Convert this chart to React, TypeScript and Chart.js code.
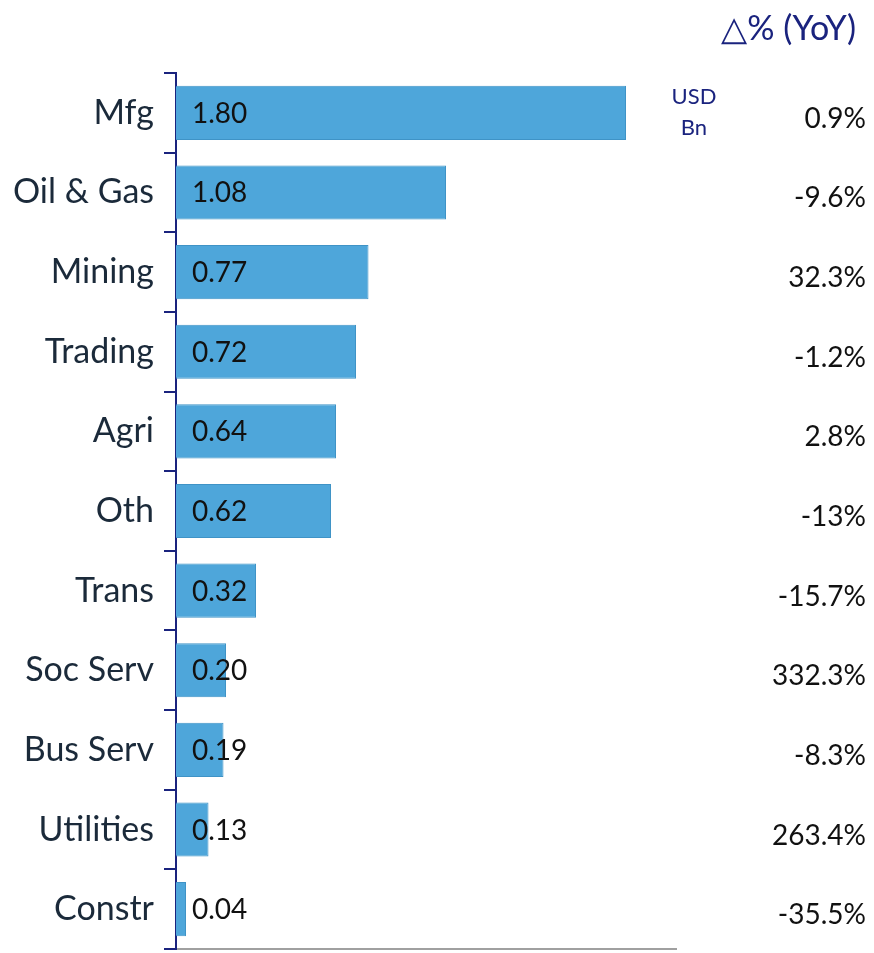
import React, { useEffect, useRef } from "react";
import { Chart, registerables } from "chart.js";

Chart.register(...registerables);

const categories = ["Mfg", "Oil & Gas", "Mining", "Trading", "Agri", "Oth", "Trans", "Soc Serv", "Bus Serv", "Utilities", "Constr"];
const values = [1.8, 1.08, 0.77, 0.72, 0.64, 0.62, 0.32, 0.2, 0.19, 0.13, 0.04];
const yoyLabels = ["0.9%", "-9.6%", "32.3%", "-1.2%", "2.8%", "-13%", "-15.7%", "332.3%", "-8.3%", "263.4%", "-35.5%"];
const headerText = "△% (YoY)";
const unitLines = ["USD", "Bn"];

const FONT = "Lato, 'Open Sans', sans-serif";
const NAVY = "#1a237e";

const textPlugin = {
  id: "textPlugin",
  afterDatasetsDraw(chart: any) {
    const ctx = chart.ctx;
    const meta = chart.getDatasetMeta(0);
    const area = chart.chartArea;
    ctx.save();
    ctx.textBaseline = "middle";
    meta.data.forEach((bar: any, i: number) => {
      ctx.font = `28px ${FONT}`;
      ctx.fillStyle = "#111111";
      ctx.textAlign = "left";
      ctx.fillText(values[i].toFixed(2), area.left + 16, bar.y + 1);
      ctx.textAlign = "right";
      ctx.fillText(yoyLabels[i], 866, bar.y + 6);
    });
    ctx.fillStyle = NAVY;
    ctx.font = `34px ${FONT}`;
    ctx.textAlign = "right";
    ctx.fillText(headerText, 856, 29);
    ctx.font = `22px ${FONT}`;
    ctx.textAlign = "center";
    const y0 = meta.data[0].y;
    ctx.fillText(unitLines[0], 694, y0 - 16);
    ctx.fillText(unitLines[1], 694, y0 + 15);
    ctx.restore();
  },
};

export default function App() {
  const ref = useRef<HTMLCanvasElement>(null);
  useEffect(() => {
    const chart = new Chart(ref.current!, {
      type: "bar",
      data: {
        labels: categories,
        datasets: [
          {
            data: values,
            backgroundColor: "#4ea6da",
            borderColor: "#3f93c6",
            borderWidth: 1,
            barPercentage: 0.68,
            categoryPercentage: 1,
          },
        ],
      },
      options: {
        indexAxis: "y",
        animation: false,
        responsive: false,
        maintainAspectRatio: false,
        layout: { padding: { top: 73, right: 198, bottom: 4, left: 0 } },
        plugins: { legend: { display: false }, tooltip: { enabled: false } },
        scales: {
          x: {
            min: 0,
            max: 2,
            ticks: { display: false },
            grid: { display: false },
            border: { display: true, color: "#a0a0a0", width: 2 },
            afterFit: (s: any) => {
              s.height = 0;
              s.paddingLeft = 0;
              s.paddingRight = 0;
            },
          },
          y: {
            ticks: { color: "#1b2a3a", font: { family: FONT, size: 34 }, padding: 10 },
            grid: { drawOnChartArea: false, drawTicks: true, tickLength: 12, color: NAVY, lineWidth: 2, offset: true },
            border: { display: true, color: NAVY, width: 2 },
            afterFit: (s: any) => {
              s.width = 176;
              s.paddingTop = 0;
              s.paddingBottom = 0;
            },
          },
        },
      },
      plugins: [textPlugin],
    } as any);
    return () => chart.destroy();
  }, []);
  return (
    <div style={{ position: "fixed", left: 0, top: 0, width: 874, height: 953, background: "#fff" }}>
      <canvas ref={ref} width={874} height={953} style={{ width: 874, height: 953 }} />
    </div>
  );
}
